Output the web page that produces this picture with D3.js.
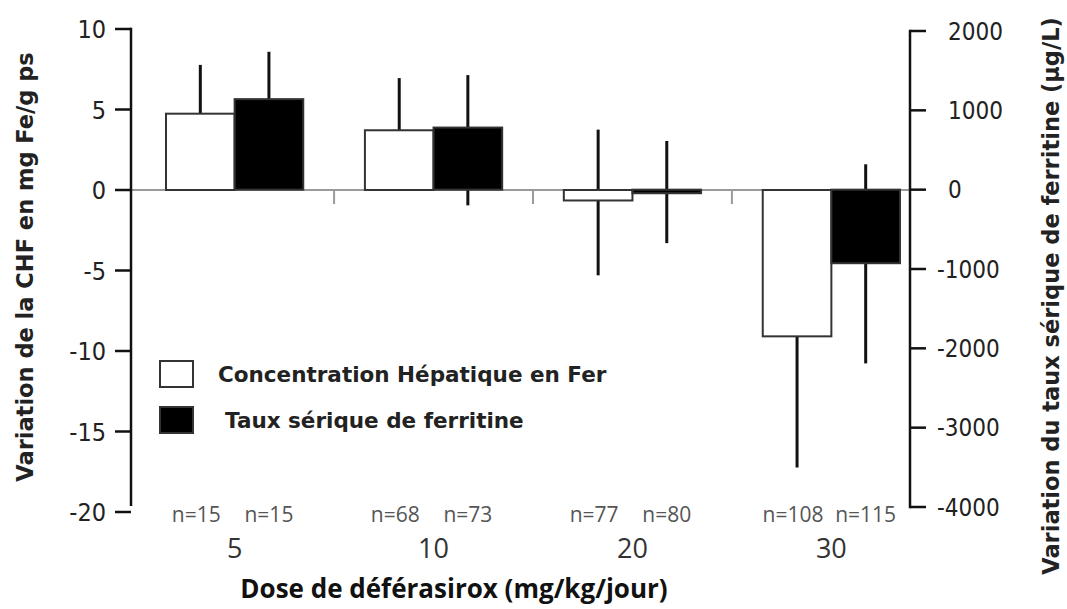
<!DOCTYPE html>
<html>
<head>
<meta charset="utf-8">
<script src="https://cdn.jsdelivr.net/npm/d3@7"></script>
<style>
  html, body { margin: 0; padding: 0; background: #fff; }
  svg { display: block; }
</style>
</head>
<body>
<svg id="chart" width="1067" height="609"></svg>
<script>
// ---- data ----
const categories = ["5", "10", "20", "30"];
const seriesNames = ["Concentration Hépatique en Fer", "Taux sérique de ferritine"];
const nCHF = ["n=15", "n=68", "n=77", "n=108"];
const nFerritine = ["n=15", "n=73", "n=80", "n=115"];
// liver iron concentration change (mg Fe/g dw), left axis
const chfMean = [4.74, 3.71, -0.65, -9.09];
const chfLow  = [1.71, 0.47, -5.3, -17.23];
const chfHigh = [7.77, 6.95, 3.75, -0.95];
// serum ferritin change (µg/L), right axis
const ferMean = [1141, 783, -45, -927];
const ferLow  = [544, -198, -674, -2190];
const ferHigh = [1738, 1444, 614, 320];
const leftTicks = [10, 5, 0, -5, -10, -15, -20];
const rightTicks = [2000, 1000, 0, -1000, -2000, -3000, -4000];

// ---- layout ----
const svg = d3.select("#chart");
const xLeftAxis = 131, xRightAxis = 910;
const yL = d3.scaleLinear().domain([-20, 10]).range([512, 29]);
const yR = d3.scaleLinear().domain([-4000, 2000]).range([507, 31]);
const x = d3.scaleBand().domain(categories).range([166, 900]).paddingInner(0.31).paddingOuter(0);
const xs = d3.scaleBand().domain(["chf", "fer"]).range([0, x.bandwidth()]);
const y0 = yL(0);

const tickFont = "'DejaVu Sans Condensed', 'DejaVu Sans', sans-serif";

// zero line
svg.append("line").attr("x1", xLeftAxis).attr("x2", xRightAxis)
  .attr("y1", y0).attr("y2", y0).attr("stroke", "#9a9a9a").attr("stroke-width", 2);

// minor ticks between groups
const mids = categories.slice(1).map(c => x(c) - x.step() * x.paddingInner() / 2);
svg.selectAll(".minor").data(mids).join("line")
  .attr("x1", d => d).attr("x2", d => d).attr("y1", y0).attr("y2", y0 + 14)
  .attr("stroke", "#9a9a9a").attr("stroke-width", 2);

// build bar data
const bars = [];
categories.forEach((c, i) => {
  bars.push({ cat: c, key: "chf", mean: chfMean[i], lo: chfLow[i], hi: chfHigh[i], y: yL, fill: "#fff" });
  bars.push({ cat: c, key: "fer", mean: ferMean[i], lo: ferLow[i], hi: ferHigh[i], y: yR, fill: "#000" });
});
const bx = d => x(d.cat) + xs(d.key);
const bc = d => bx(d) + xs.bandwidth() / 2;

// error bars (behind bars)
svg.selectAll(".err").data(bars).join("line")
  .attr("x1", bc).attr("x2", bc)
  .attr("y1", d => d.y(d.hi)).attr("y2", d => d.y(d.lo))
  .attr("stroke", "#111").attr("stroke-width", 3);

// bars
svg.selectAll(".bar").data(bars).join("rect")
  .attr("x", bx)
  .attr("width", xs.bandwidth())
  .attr("y", d => Math.min(d.y(d.mean), d.y(0)))
  .attr("height", d => Math.max(2, Math.abs(d.y(d.mean) - d.y(0))))
  .attr("fill", d => d.fill)
  .attr("stroke", "#333").attr("stroke-width", 2);

// left axis
const gL = svg.append("g").attr("transform", `translate(${xLeftAxis},0)`);
gL.append("line").attr("x1", 0).attr("x2", 0).attr("y1", yL(10) - 1.25).attr("y2", yL(-20) - 6)
  .attr("stroke", "#111").attr("stroke-width", 2.5);
gL.selectAll(".t").data(leftTicks).join("line")
  .attr("x1", -16).attr("x2", 0).attr("y1", d => yL(d)).attr("y2", d => yL(d))
  .attr("stroke", "#111").attr("stroke-width", 2.5);
gL.selectAll(".l").data(leftTicks).join("text")
  .attr("x", -25).attr("y", d => yL(d)).attr("dy", "0.36em")
  .attr("text-anchor", "end").attr("font-family", tickFont).attr("font-size", 25).attr("fill", "#222")
  .text(d => String(d));

// right axis
const gR = svg.append("g").attr("transform", `translate(${xRightAxis},0)`);
gR.append("line").attr("x1", 0).attr("x2", 0).attr("y1", yR(2000) - 1.25).attr("y2", yR(-4000) + 1.25)
  .attr("stroke", "#111").attr("stroke-width", 2.5);
gR.selectAll(".t").data(rightTicks).join("line")
  .attr("x1", 0).attr("x2", 16).attr("y1", d => yR(d)).attr("y2", d => yR(d))
  .attr("stroke", "#111").attr("stroke-width", 2.5);
gR.selectAll(".l").data(rightTicks).join("text")
  .attr("x", d => d < 0 ? 27 : 38).attr("y", d => yR(d)).attr("dy", "0.36em")
  .attr("text-anchor", "start").attr("font-family", tickFont).attr("font-size", 24).attr("fill", "#222")
  .text(d => String(d));

// n labels
const nLabels = [];
categories.forEach((c, i) => {
  nLabels.push({ cat: c, key: "chf", text: nCHF[i] });
  nLabels.push({ cat: c, key: "fer", text: nFerritine[i] });
});
svg.selectAll(".n").data(nLabels).join("text")
  .attr("x", d => x(d.cat) + xs(d.key) + xs.bandwidth() / 2 + (d.key === "chf" ? -4 : 0))
  .attr("y", 522)
  .attr("text-anchor", "middle").attr("font-family", "'Open Sans', sans-serif").attr("font-size", 21)
  .attr("fill", "#555").text(d => d.text);

// category labels
svg.selectAll(".cat").data(categories).join("text")
  .attr("x", d => x(d) + x.bandwidth() / 2).attr("y", 558)
  .attr("text-anchor", "middle").attr("font-family", "'Open Sans', sans-serif").attr("font-size", 27)
  .attr("fill", "#333").text(d => d);

// x title
svg.append("text").attr("x", 454).attr("y", 598).attr("text-anchor", "middle")
  .attr("font-family", "'Open Sans', sans-serif").attr("font-weight", "bold").attr("font-size", 26)
  .attr("fill", "#111").text("Dose de déférasirox (mg/kg/jour)");

// y titles
svg.append("text").attr("transform", "translate(33,267) rotate(-90)").attr("text-anchor", "middle")
  .attr("font-family", "'DejaVu Sans', sans-serif").attr("font-weight", "bold").attr("font-size", 22.5)
  .attr("fill", "#222").text("Variation de la CHF en mg Fe/g ps");
svg.append("text").attr("transform", "translate(1059,296) rotate(-90)").attr("text-anchor", "middle")
  .attr("font-family", "'DejaVu Sans', sans-serif").attr("font-weight", "bold").attr("font-size", 22.5)
  .attr("fill", "#222").text("Variation du taux sérique de ferritine (µg/L)");

// legend
const legend = svg.append("g");
const legY = [374, 420];
const legTextX = [218, 225];
seriesNames.forEach((name, i) => {
  legend.append("rect").attr("x", 160).attr("y", legY[i] - 13).attr("width", 33).attr("height", 26)
    .attr("fill", i === 0 ? "#fff" : "#000").attr("stroke", "#333").attr("stroke-width", 2);
  legend.append("text").attr("x", legTextX[i]).attr("y", legY[i]).attr("dy", "0.36em")
    .attr("font-family", "'DejaVu Sans', sans-serif").attr("font-weight", "bold").attr("font-size", 21.5)
    .attr("fill", "#222").text(name);
});
</script>
</body>
</html>
